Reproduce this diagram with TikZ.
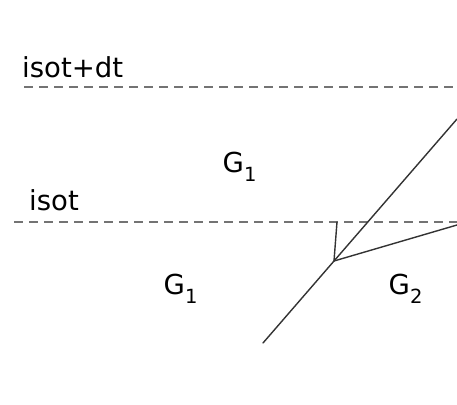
\documentclass[tikz,border=0pt]{standalone}
\usepackage{fontspec}
\setmainfont{DejaVu Sans}
\usetikzlibrary{positioning}

\newcommand{\grain}[1]{G\raisebox{-9pt}{\fontsize{19.5}{22}\selectfont #1}}

\begin{document}
\begin{tikzpicture}[
    x=1pt, y=-1pt,
    line join=round,
    line cap=butt,
    front/.style={dash pattern=on 9pt off 6pt, line width=1.5pt, black!55},
    boundary/.style={line width=1.4pt, black!80, line cap=round},
    label/.style={font=\fontsize{27.5}{30}\selectfont, inner sep=0pt},
    region/.style={font=\fontsize{27.5}{30}\selectfont, inner sep=0pt}
]
\useasboundingbox (0,0) rectangle (457,404);

% =========================
% Isotherms
% =========================
\coordinate (topL) at (24,87);
\coordinate (topR) at (454,87);
\coordinate (isoL) at (14,222);
\coordinate (isoR) at (457,222);

\draw[front] (topL) -- (topR);
\draw[front] (isoL) -- (isoR);

\node[label, anchor=base west] (isotdt) at (22,77) {isot+dt};
\node[label, anchor=base west] (isot) at (29,210) {isot};

% =========================
% Grain boundaries
% =========================
\coordinate (junction) at (334,261);
\coordinate (low) at (263,343);
\coordinate (high) at (457,119);
\coordinate (side) at (457,225);
\coordinate (foot) at (337,222);

\draw[boundary] (low) -- (junction) -- (high);
\draw[boundary] (junction) -- (side);
\draw[boundary] (junction) -- (foot);

% =========================
% Grains
% =========================
\node[region, anchor=base west] (grainup) at (222.5,172) {\grain{1}};
\node[region, anchor=base west] (grainlow) at (163.5,294) {\grain{1}};
\node[region, anchor=base west] (grainright) at (388.5,294) {\grain{2}};

\end{tikzpicture}
\end{document}
